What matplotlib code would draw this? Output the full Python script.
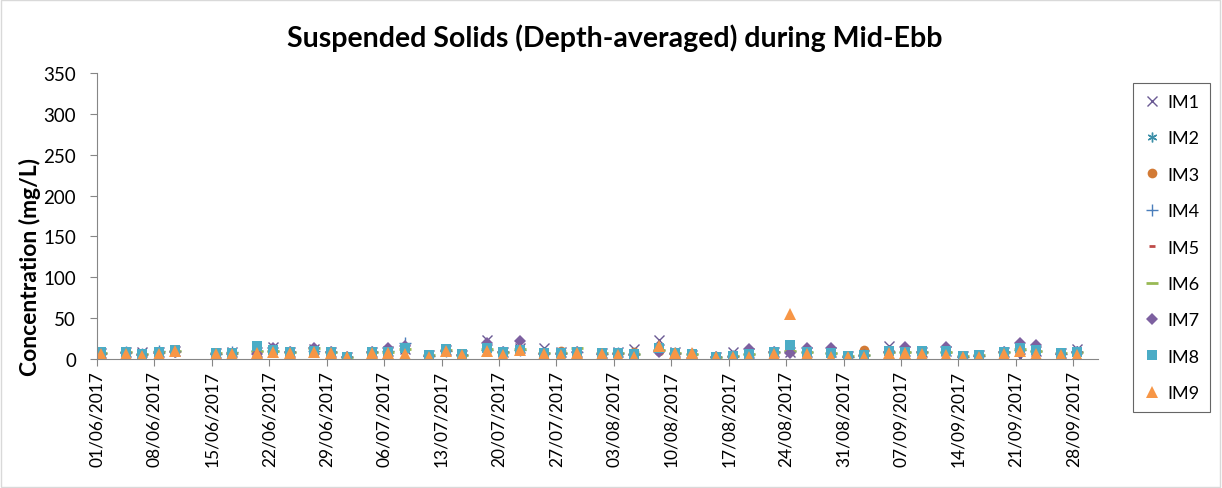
import matplotlib
matplotlib.use("Agg")
import matplotlib.pyplot as plt
import matplotlib.dates as mdates
from matplotlib.patches import Rectangle
import pandas as pd

plt.rcParams['font.family'] = ['Lato', 'DejaVu Sans']

# sampling dates (dd/mm/yyyy)
dates = ["01/06/2017", "04/06/2017", "06/06/2017", "08/06/2017", "10/06/2017",
         "15/06/2017", "17/06/2017", "20/06/2017", "22/06/2017", "24/06/2017",
         "27/06/2017", "29/06/2017", "01/07/2017", "04/07/2017", "06/07/2017",
         "08/07/2017", "11/07/2017", "13/07/2017", "15/07/2017", "18/07/2017",
         "20/07/2017", "22/07/2017", "25/07/2017", "27/07/2017", "29/07/2017",
         "01/08/2017", "03/08/2017", "05/08/2017", "08/08/2017", "10/08/2017",
         "12/08/2017", "15/08/2017", "17/08/2017", "19/08/2017", "22/08/2017",
         "24/08/2017", "26/08/2017", "29/08/2017", "31/08/2017", "02/09/2017",
         "05/09/2017", "07/09/2017", "09/09/2017", "12/09/2017", "14/09/2017",
         "16/09/2017", "19/09/2017", "21/09/2017", "23/09/2017", "26/09/2017",
         "28/09/2017"]

im1 = [7, 8, 9, 8, 10, 7, 8, 8, 15, 8, 12, 8, 3, 8, 10, 12, 5, 11, 5, 23,
       8, 14, 14, 9, 8, 7, 8, 12, 23, 8, 5, 3, 9, 7, 8, 8, 9, 8, 4, 5,
       16, 10, 8, 10, 4, 5, 8, 1, 10, 7, 12]
im2 = [8, 8, 6, 8, 11, 7, 7, 14, 12, 8, 11, 9, 3, 9, 10, 14, 5, 12, 6, 14,
       9, 12, 8, 8, 9, 7, 7, 6, 12, 7, 6, 3, 4, 7, 9, 15, 9, 8, 4, 6,
       10, 10, 9, 10, 4, 5, 9, 14, 12, 7, 10]
im3 = [6, 7, 5, 7, 9, 6, 6, 9, 10, 8, 9, 8, 2, 8, 9, 12, 4, 11, 5, 11,
       7, 12, 6, 10, 8, 6, 6, 8, 10, 6, 5, 2, 4, 5, 7, 10, 8, 6, 3, 11,
       8, 8, 7, 8, 3, 4, 7, 11, 10, 0, 8]
im4 = [7, 8, 6, 10, 10, 6, 9, 10, 10, 8, 10, 8, 3, 8, 10, 20, 4, 10, 5, 11,
       8, 11, 7, 7, 8, 6, 7, 6, 11, 7, 6, 3, 4, 6, 8, 10, 8, 7, 3, 5,
       9, 9, 8, 9, 3, 4, 8, 11, 10, 6, 9]
im5 = [7, 7, 6, 8, 10, 6, 6, 9, 10, 8, 10, 8, 3, 8, 9, 13, 4, 10, 5, 12,
       8, 12, 7, 12, 8, 7, 6, 6, 10, 6, 6, 3, 4, 6, 8, 9, 8, 6, 4, 5,
       9, 9, 8, 9, 4, 4, 8, 12, 10, 6, 9]
im6 = [7, 8, 6, 8, 10, 7, 7, 10, 10, 8, 13, 8, 3, 8, 9, 12, 5, 11, 5, 12,
       8, 12, 7, 7, 14, 7, 7, 6, 11, 7, 6, 3, 4, 6, 8, 10, 8, 7, 4, 5,
       9, 9, 9, 9, 4, 5, 8, 12, 10, 7, 9]
im7 = [6, 7, 5, 7, 9, 6, 6, 6, 14, 8, 14, 8, 2, 8, 14, 16, 4, 10, 5, 19,
       8, 22, 6, 6, 8, 6, 6, 5, 8, 6, 1, 2, 3, 12, 8, 7, 14, 14, 3, 4,
       9, 15, 8, 15, 3, 4, 8, 20, 17, 6, 8]
im8 = [8, 9, 6, 8, 11, 7, 7, 16, 11, 9, 10, 9, 3, 9, 9, 13, 5, 12, 6, 13,
       9, 11, 7, 7, 9, 7, 7, 6, 14, 7, 6, 3, 4, 6, 9, 17, 9, 7, 4, 5,
       10, 9, 10, 10, 4, 5, 9, 13, 11, 7, 9]
im9 = [6, 6, 4, 6, 10, 6, 6, 7, 9, 7, 8, 7, 2, 7, 7, 6, 3, 10, 5, 10,
       5, 11, 6, 5, 7, 6, 5, 2, 16, 7, 7, 2, 3, 3, 6, 55, 6, 3, 3, 3,
       7, 7, 6, 5, 2, 3, 6, 10, 6, 5, 5]

series = [("IM1", im1), ("IM2", im2), ("IM3", im3), ("IM4", im4), ("IM5", im5),
          ("IM6", im6), ("IM7", im7), ("IM8", im8), ("IM9", im9)]

styles = {
    "IM1": dict(marker='x', color='#6A5A94', ms=7, mew=1.0),
    "IM2": dict(marker=(6, 2, 0), color='#3C8FA8', ms=7, mew=1.0),
    "IM3": dict(marker='o', color='#D27A35', ms=7, mew=0),
    "IM4": dict(marker='+', color='#4A7EBB', ms=8, mew=1.0),
    "IM5": dict(marker='_', color='#BE4B48', ms=5, mew=2.0),
    "IM6": dict(marker='_', color='#98B954', ms=8, mew=2.0),
    "IM7": dict(marker='D', color='#7D60A0', ms=6, mew=0),
    "IM8": dict(marker='s', color='#4BACC6', ms=7.5, mew=0),
    "IM9": dict(marker='^', color='#F79646', ms=8.5, mew=0),
}

x = pd.to_datetime(dates, format="%d/%m/%Y") + pd.Timedelta(hours=12)

fig = plt.figure(figsize=(12.22, 4.89), dpi=100)
ax = fig.add_axes([0.0794, 0.2638, 0.8191, 0.5849])

for name, vals in series:
    st = styles[name]
    ax.plot(x, vals, linestyle='none', marker=st['marker'], color=st['color'],
            markersize=st['ms'], markeredgewidth=st['mew'], label=name)

start = pd.Timestamp("2017-06-01")
ax.set_xlim(start, pd.Timestamp("2017-10-01"))
ticks = pd.date_range(start, pd.Timestamp("2017-09-28"), freq="7D")
ax.set_xticks(ticks)
ax.xaxis.set_major_formatter(mdates.DateFormatter("%d/%m/%Y"))
plt.setp(ax.get_xticklabels(), rotation=90)

ax.set_ylim(0, 350)
ax.set_yticks(range(0, 351, 50))

for s in ['top', 'right']:
    ax.spines[s].set_visible(False)
for s in ['left', 'bottom']:
    ax.spines[s].set_color('#868686')
ax.tick_params(axis='both', colors='#868686', labelcolor='#000000',
               direction='out', length=5, labelsize=13.5)
ax.tick_params(axis='y', pad=10)
ax.tick_params(axis='x', labelsize=12.5, pad=3)

ax.set_ylabel("Concentration (mg/L)", fontsize=16.5, fontweight='bold')
ax.yaxis.set_label_coords(-0.056, 0.325)
fig.text(0.503, 0.922, "Suspended Solids (Depth-averaged) during Mid-Ebb",
         ha='center', va='center', fontsize=20.5, fontweight='bold')

leg = ax.legend(loc='upper left', bbox_to_anchor=(0.927, 0.828),
                bbox_transform=fig.transFigure, fontsize=13, frameon=True,
                fancybox=False, edgecolor='#404040', labelspacing=1.13,
                handlelength=0.9, handletextpad=0.4, borderpad=0.6,
                borderaxespad=0)
leg.get_frame().set_linewidth(0.8)

fig.patches.append(Rectangle((0.001, 0.002), 0.997, 0.995, transform=fig.transFigure,
                             fill=False, edgecolor='#D9D9D9', linewidth=1.0))

fig.savefig("out.png", dpi=100)
